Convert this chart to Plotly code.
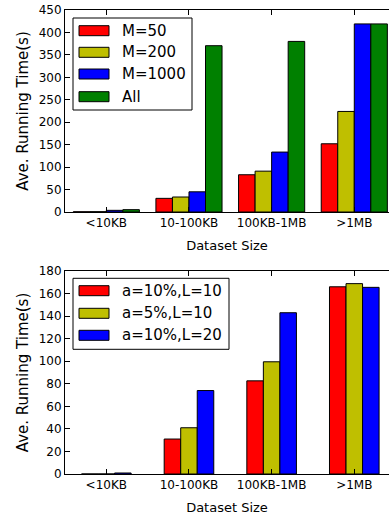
import plotly.graph_objects as go
from plotly.subplots import make_subplots

categories = ["<10KB", "10-100KB", "100KB-1MB", ">1MB"]

top_names = ["M=50", "M=200", "M=1000", "All"]
m50 = [0.5, 30.4, 83, 152]
m200 = [0.7, 33.4, 91, 224]
m1000 = [3.7, 45, 133.5, 419]
m_all = [5.2, 370.5, 380, 419]

bottom_names = ["a=10%,L=10", "a=5%,L=10", "a=10%,L=20"]
a10_l10 = [0, 31, 82.6, 166]
a5_l10 = [0, 41, 99.5, 168.8]
a10_l20 = [0.9, 74, 143, 165.5]

top_ticks = list(range(0, 451, 50))
bottom_ticks = list(range(0, 181, 20))

top_colors = ["#FF0000", "#BFBF00", "#0000FF", "#008000"]
bottom_colors = ["#FF0000", "#BFBF00", "#0000FF"]

FONT = "DejaVu Sans"
W, H = 389, 516
ML, MR, MT, MB = 65, 0, 10, 42

fig = make_subplots(rows=2, cols=1, vertical_spacing=0.0)

def px2paper(px, py):
    return (px - ML) / (W - ML - MR), (H - MB - py) / (H - MT - MB)

top_series = [m50, m200, m1000, m_all]
for i, (name, vals, col) in enumerate(zip(top_names, top_series, top_colors)):
    fig.add_trace(go.Bar(x=categories, y=vals, name=name, width=0.2, offset=-0.4 + 0.2 * i,
                         marker=dict(color=col, line=dict(color="black", width=1)),
                         showlegend=False), row=1, col=1)

bottom_series = [a10_l10, a5_l10, a10_l20]
for i, (name, vals, col) in enumerate(zip(bottom_names, bottom_series, bottom_colors)):
    fig.add_trace(go.Bar(x=categories, y=vals, name=name, width=0.2, offset=-0.3 + 0.2 * i,
                         marker=dict(color=col, line=dict(color="black", width=1)),
                         showlegend=False), row=2, col=1)

top_dom = [px2paper(0, 212)[1], 1.0]
bot_dom = [0.0, px2paper(0, 271)[1]]

axis_common = dict(showline=True, linecolor="black", linewidth=1, ticks="inside", ticklen=5,
                   tickcolor="black", tickfont=dict(family=FONT, size=12, color="black"),
                   showgrid=False, zeroline=False)

fig.update_xaxes(**axis_common, mirror="ticks", range=[-0.5, 3.42],
                 title=dict(text="Dataset Size", font=dict(family=FONT, size=13, color="black"), standoff=11))
fig.update_yaxes(**axis_common, mirror=False,
                 title=dict(text="Ave. Running Time(s)", font=dict(family=FONT, size=15, color="black"), standoff=6))
fig.update_yaxes(range=[0, 450], tickvals=top_ticks, row=1, col=1)
fig.update_yaxes(range=[0, 180], tickvals=bottom_ticks, row=2, col=1)
fig.update_layout(yaxis=dict(domain=top_dom), yaxis2=dict(domain=bot_dom))

shapes = []
annotations = []

def legend(box, rows_y, names, colors):
    x0, y0 = px2paper(box[0], box[3])
    x1, y1 = px2paper(box[1], box[2])
    shapes.append(dict(type="rect", xref="paper", yref="paper", x0=x0, y0=y0, x1=x1, y1=y1,
                       line=dict(color="black", width=1), fillcolor="white", layer="above"))
    for ry, name, col in zip(rows_y, names, colors):
        sx0, sy0 = px2paper(79, ry + 5)
        sx1, sy1 = px2paper(109, ry - 5)
        shapes.append(dict(type="rect", xref="paper", yref="paper", x0=sx0, y0=sy0, x1=sx1, y1=sy1,
                           line=dict(color="black", width=1), fillcolor=col, layer="above"))
        tx, ty = px2paper(120, ry)
        annotations.append(dict(xref="paper", yref="paper", x=tx, y=ty, text=name, showarrow=False,
                                xanchor="left", yanchor="middle",
                                font=dict(family=FONT, size=15, color="black")))

legend((73, 192, 18, 110), [30.7, 52.3, 74, 96.7], top_names, top_colors)
legend((73, 229, 278.3, 349.3), [290.7, 313.3, 335.3], bottom_names, bottom_colors)

fig.update_layout(width=W, height=H, margin=dict(l=ML, r=MR, t=MT, b=MB),
                  plot_bgcolor="white", paper_bgcolor="white",
                  shapes=shapes, annotations=annotations,
                  font=dict(family=FONT, color="black"))

fig.write_html("out.html", config={"displayModeBar": False},
               post_script="document.body.style.margin='0px';document.body.style.overflow='hidden';")
